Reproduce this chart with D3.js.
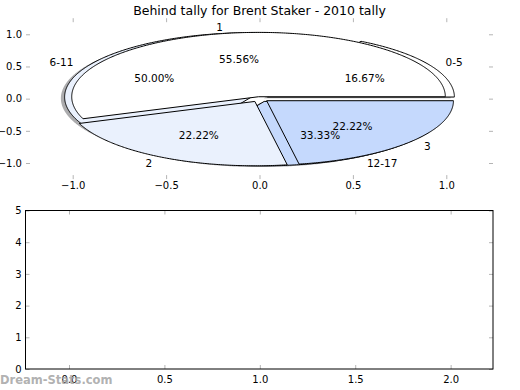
<!DOCTYPE html>
<html>
<head>
<meta charset="utf-8">
<script src="https://cdn.jsdelivr.net/npm/d3@7"></script>
<style>
  html, body { margin: 0; padding: 0; background: #fff; }
  svg { display: block; font-family: "DejaVu Sans", sans-serif; }
</style>
</head>
<body>
<svg id="chart" width="520" height="390"></svg>
<script>
// ---- data ----
const titleText = "Behind tally for Brent Staker - 2010 tally";
const ageLabels = ["0-5", "6-11", "12-17"];
const ageValues = [1, 3, 2];            // 16.67%, 50.00%, 33.33%
const tallyLabels = ["1", "2", "3"];
const tallyValues = [5, 2, 2];          // 55.56%, 22.22%, 22.22%
const pieXTicks = [-1.0, -0.5, 0.0, 0.5, 1.0];
const pieYTicks = [-1.0, -0.5, 0.0, 0.5, 1.0];
const barXTicks = [0.0, 0.5, 1.0, 1.5, 2.0];
const barYTicks = [0, 1, 2, 3, 4, 5];
const watermark = "Dream-Stats.com";

// ---- styles ----
const ageExplode = [0.05, 0.05, 0.05];
const tallyExplode = [0.03, 0.05, 0.05];
const pieColors = ["#ffffff", "#eaf1fd", "#c5d9fd"];
const tickColor = "#b4b4b4";

const svg = d3.select("#chart");
const L = 26, R = 493;

// top (pie) axes
const xP = d3.scaleLinear().domain([-1.25, 1.25]).range([L, R]);
const yP = d3.scaleLinear().domain([-1.25, 1.25]).range([179.1, 18.2]);
// bottom (empty) axes
const xB = d3.scaleLinear().domain([-0.228, 2.222]).range([L - 0.5, R]);
const yB = d3.scaleLinear().domain([0, 5]).range([369, 210.5]);

const fmtTick = v => (v < 0 ? "\u2212" : "") + d3.format(".1f")(Math.abs(v));

function drawAxes(x, y, xt, yt, xfmt, yfmt, xpad) {
  const [y0, y1] = y.range();
  const [x0, x1] = x.range();
  const g = svg.append("g");
  const ax = [
    g.append("g").attr("transform", `translate(0,${y0})`)
      .call(d3.axisBottom(x).tickValues(xt).tickSize(-4).tickPadding(xpad).tickFormat(xfmt)),
    g.append("g").attr("transform", `translate(0,${y1})`)
      .call(d3.axisTop(x).tickValues(xt).tickSize(-4).tickFormat("")),
    g.append("g").attr("transform", `translate(${x0},0)`)
      .call(d3.axisLeft(y).tickValues(yt).tickSize(-4).tickPadding(4).tickFormat(yfmt)),
    g.append("g").attr("transform", `translate(${x1},0)`)
      .call(d3.axisRight(y).tickValues(yt).tickSize(-4).tickFormat(""))
  ];
  ax.forEach(a => {
    a.select(".domain").remove();
    a.selectAll(".tick line").attr("stroke", tickColor).attr("stroke-width", 1);
    a.selectAll(".tick text").attr("fill", "#000").attr("font-size", 10)
      .attr("font-family", "DejaVu Sans, sans-serif");
  });
  return g;
}

// ---------- pie axes ----------
drawAxes(xP, yP, pieXTicks, pieYTicks, fmtTick, fmtTick, 3);

const pieGen = d3.pie().sort(null).value(d => d);
const line = d3.line();

function wedgePts(cx, cy, r, a0, a1) {
  const pts = [[xP(cx), yP(cy)]];
  const n = Math.max(8, Math.ceil((a1 - a0) / 0.01));
  for (let i = 0; i <= n; i++) {
    const t = a0 + (a1 - a0) * i / n;
    pts.push([xP(cx + r * Math.cos(t)), yP(cy + r * Math.sin(t))]);
  }
  return pts;
}

function layout(values, explode) {
  return pieGen(values).map((a, i) => {
    const mid = (a.startAngle + a.endAngle) / 2;
    return {
      a0: a.startAngle, a1: a.endAngle, mid,
      cx: explode[i] * Math.cos(mid), cy: explode[i] * Math.sin(mid),
      pct: 100 * (a.endAngle - a.startAngle) / (2 * Math.PI), i
    };
  });
}

const agePie = layout(ageValues, ageExplode);
const tallyPie = layout(tallyValues, tallyExplode);

const pieG = svg.append("g");
// shadows of first pie
agePie.forEach(w => {
  const c = d3.rgb(pieColors[w.i]);
  const sc = `rgba(${Math.round(c.r * 0.3)},${Math.round(c.g * 0.3)},${Math.round(c.b * 0.3)},0.45)`;
  pieG.append("path")
    .attr("d", line(wedgePts(w.cx - 0.02, w.cy - 0.02, 1, w.a0, w.a1)) + "Z")
    .attr("fill", sc).attr("stroke", "none");
});
function drawPie(p) {
  p.forEach(w => {
    pieG.append("path")
      .attr("d", line(wedgePts(w.cx, w.cy, 1, w.a0, w.a1)) + "Z")
      .attr("fill", pieColors[w.i]).attr("stroke", "#000").attr("stroke-width", 1)
      .attr("stroke-linejoin", "round");
  });
}
drawPie(agePie);
drawPie(tallyPie);

function drawLabels(p, labels) {
  p.forEach(w => {
    const lx = w.cx + 1.1 * Math.cos(w.mid), ly = w.cy + 1.1 * Math.sin(w.mid);
    svg.append("text").attr("x", xP(lx)).attr("y", yP(ly))
      .attr("text-anchor", lx > 0 ? "start" : "end")
      .attr("dominant-baseline", "central")
      .attr("font-size", 10.5).text(labels[w.i]);
    const px = w.cx + 0.6 * Math.cos(w.mid), py = w.cy + 0.6 * Math.sin(w.mid);
    svg.append("text").attr("x", xP(px)).attr("y", yP(py))
      .attr("text-anchor", "middle").attr("dominant-baseline", "central")
      .attr("font-size", 10.5).text(d3.format(".2f")(w.pct) + "%");
  });
}
drawLabels(agePie, ageLabels);
drawLabels(tallyPie, tallyLabels);

svg.append("text").attr("x", (L + R) / 2).attr("y", 10)
  .attr("text-anchor", "middle").attr("dominant-baseline", "central")
  .attr("font-size", 12.5).text(titleText);

// ---------- bottom axes ----------
drawAxes(xB, yB, barXTicks, barYTicks, d3.format(".1f"), d3.format("d"), 7);
svg.append("rect")
  .attr("x", xB.range()[0]).attr("y", yB.range()[1])
  .attr("width", xB.range()[1] - xB.range()[0])
  .attr("height", yB.range()[0] - yB.range()[1])
  .attr("fill", "none").attr("stroke", "#000").attr("stroke-width", 1);

svg.append("text").attr("x", 0).attr("y", 380)
  .attr("dominant-baseline", "central")
  .attr("font-size", 11.5).attr("font-weight", "bold")
  .attr("fill", "#a8a8a8").attr("fill-opacity", 0.9).text(watermark);
</script>
</body>
</html>
